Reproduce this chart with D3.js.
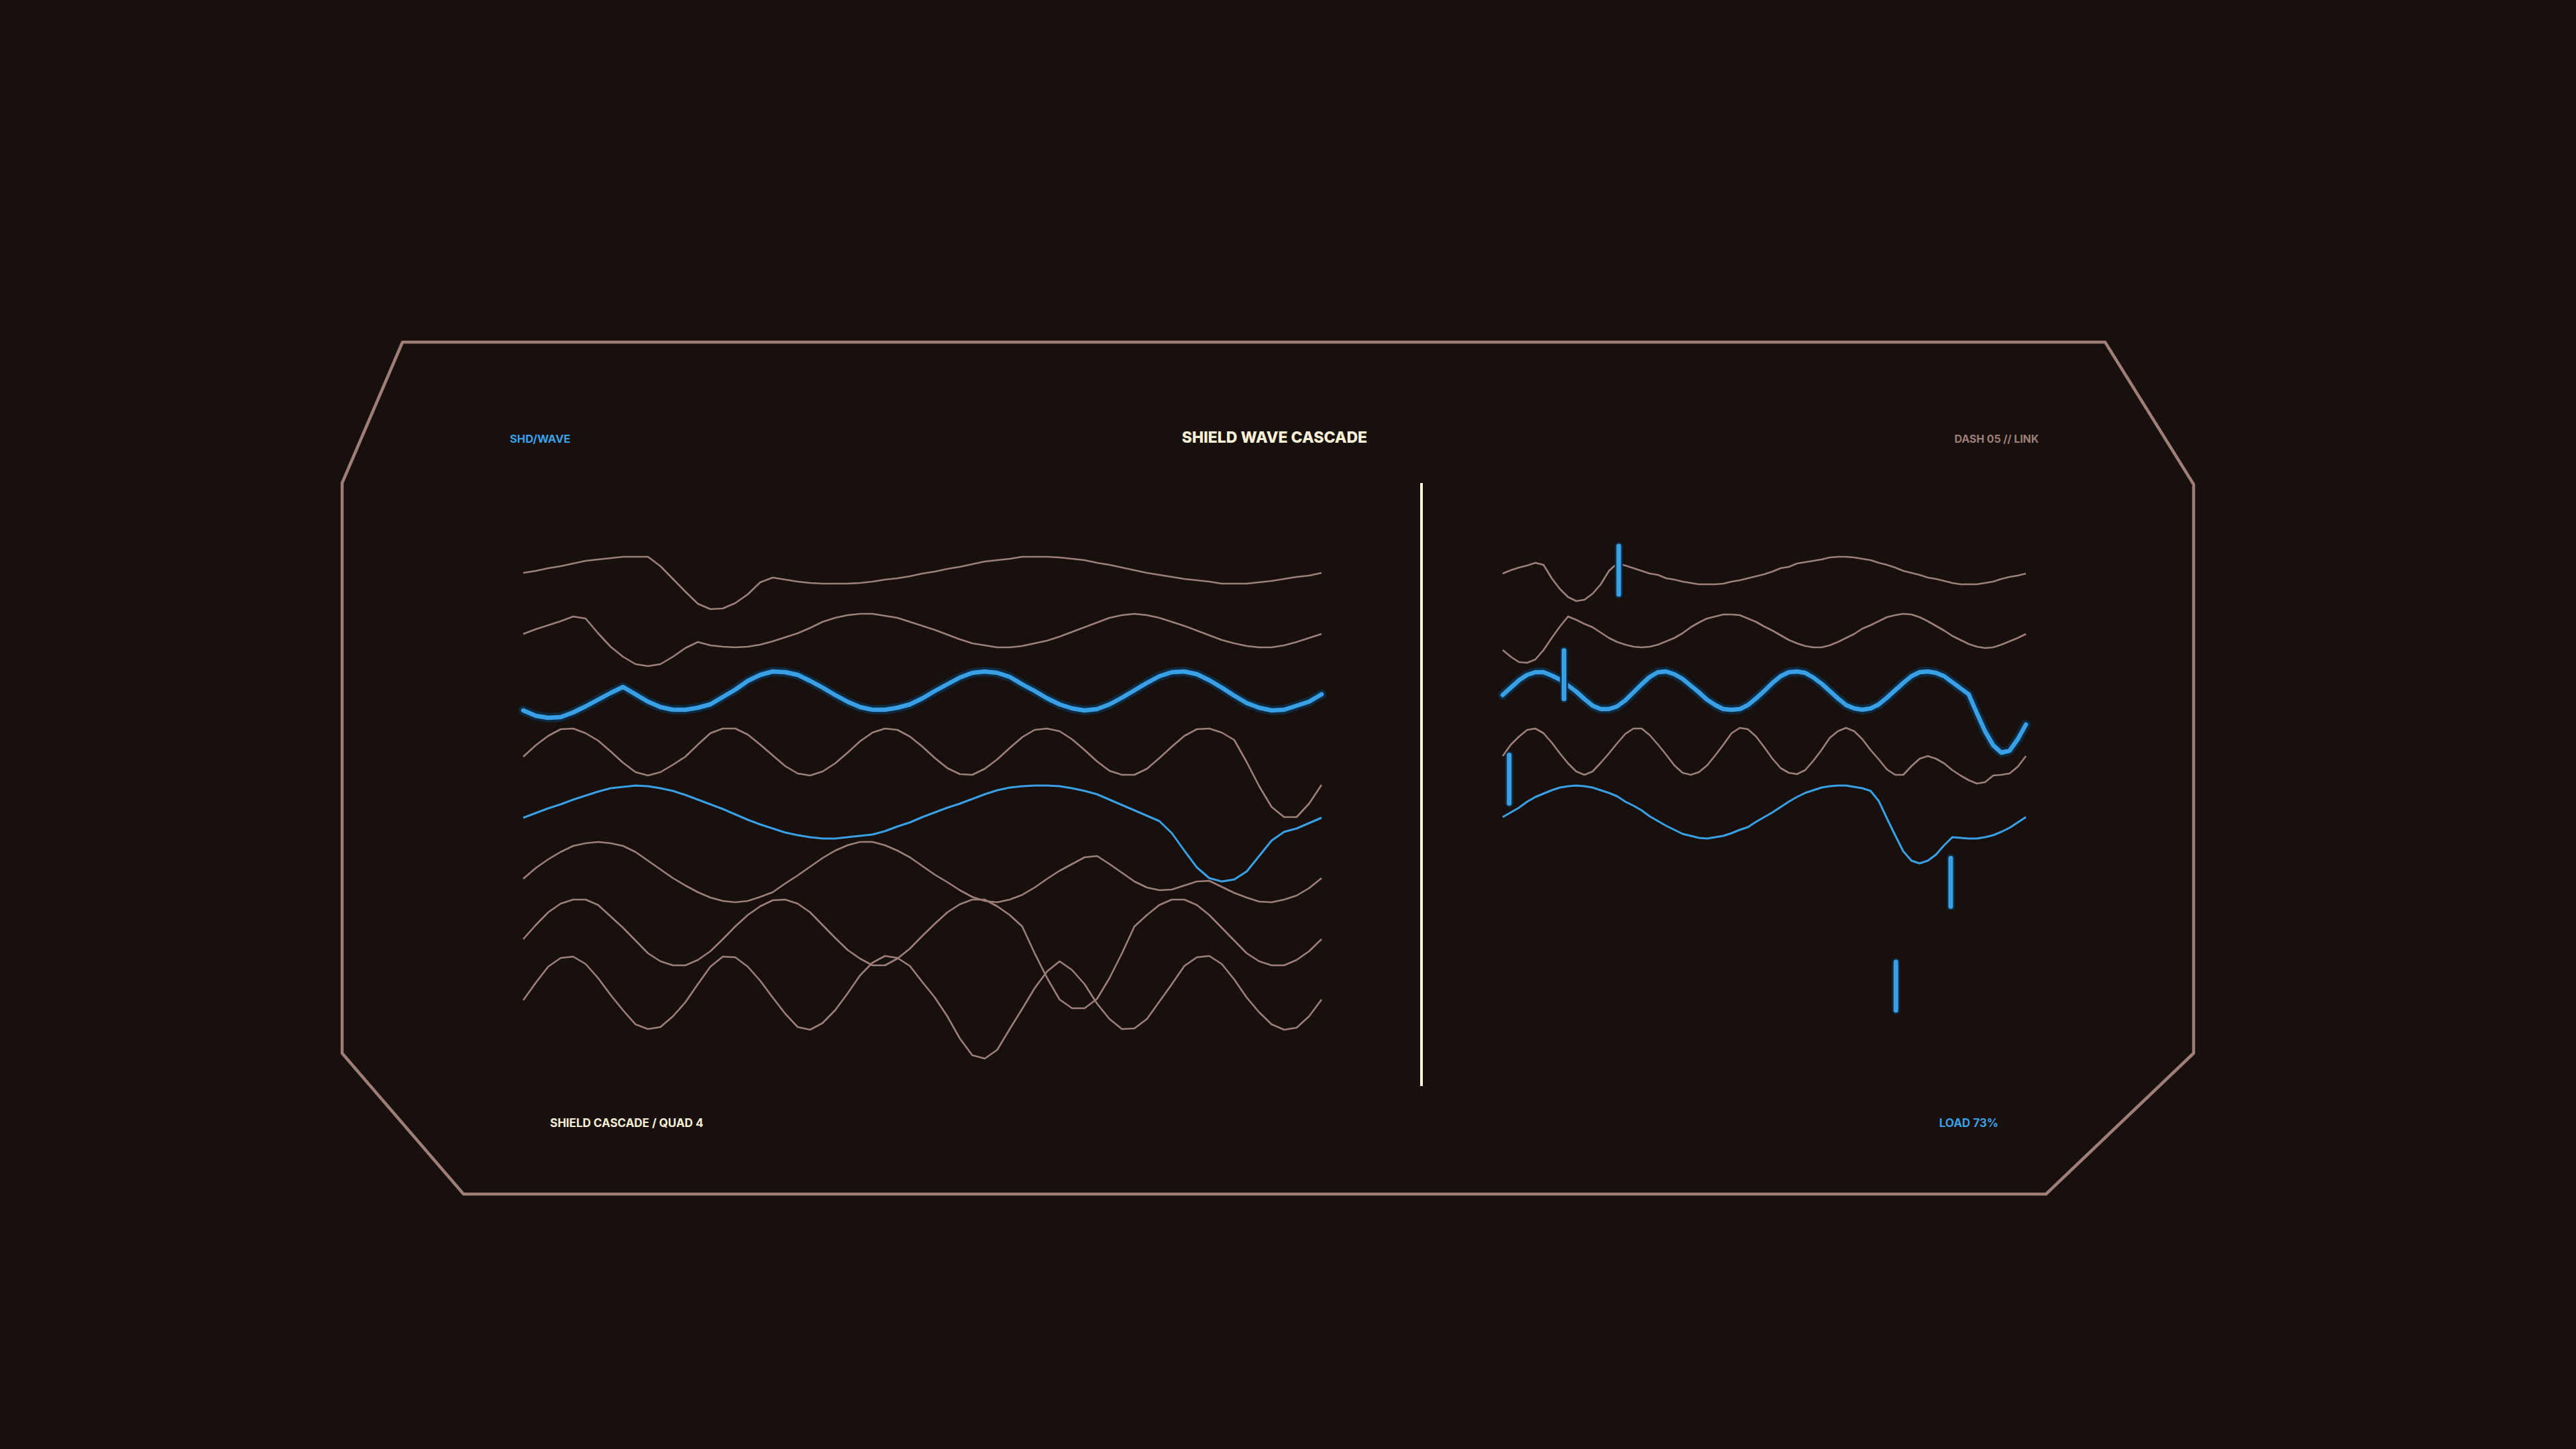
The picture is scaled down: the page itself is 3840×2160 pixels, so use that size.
<!DOCTYPE html>
<html>
<head>
<meta charset="utf-8">
<script src="https://cdn.jsdelivr.net/npm/d3@7/dist/d3.min.js"></script>
<style>
  html, body { margin: 0; padding: 0; background: #18100d; overflow: hidden; }
  svg { display: block; }
</style>
</head>
<body>
<svg id="chart" width="3840" height="2160"></svg>
<script>
// ---------- DATA (signal deviation per sample) ----------
const waveL1 = [-4,-1,3,6,10,14,16,18,20,20,20,6,-13,-32,-50,-58,-57,-49,-36,-18,-11,-14,-17,-19,-20,-20,-20,-19,-17,-14,-12,-9,-5,-2,2,5,9,13,15,17,20,20,20,19,17,15,11,8,4,0,-4,-7,-10,-13,-15,-17,-20,-20,-20,-18,-16,-13,-10,-8,-4];
const waveL2 = [-5,2,8,14,21,18,-4,-24,-39,-50,-53,-50,-39,-26,-17,-22,-24,-25,-24,-21,-16,-10,-4,4,13,19,23,25,25,22,19,13,7,1,-6,-13,-19,-22,-25,-25,-23,-19,-15,-9,-2,5,12,19,23,25,23,19,13,7,0,-7,-14,-19,-23,-25,-25,-22,-17,-11,-5];
const waveL3 = [-29,-37,-40,-39,-32,-23,-13,-3,6,-5,-16,-24,-28,-28,-25,-20,-9,2,15,24,29,28,24,15,5,-6,-16,-24,-28,-28,-25,-20,-11,0,10,20,27,29,27,21,10,0,-11,-20,-26,-29,-27,-20,-10,1,12,22,28,29,25,16,5,-7,-18,-25,-29,-28,-22,-16,-5];
const waveL4 = [-8,9,23,33,34,27,16,0,-17,-31,-36,-31,-20,-8,10,27,34,34,25,10,-6,-22,-33,-36,-30,-18,-2,15,28,34,32,22,7,-10,-25,-34,-35,-26,-12,5,21,32,34,30,18,2,-15,-29,-35,-35,-26,-10,7,23,33,34,28,17,-16,-52,-83,-98,-98,-78,-50];
const waveL5 = [-9,-2,5,11,18,24,30,35,37,39,38,35,31,25,18,11,4,-4,-12,-19,-25,-31,-35,-38,-40,-40,-38,-36,-34,-29,-22,-16,-8,-1,6,12,19,26,32,36,38,39,39,38,35,31,26,18,10,2,-6,-14,-32,-58,-83,-99,-104,-101,-89,-66,-43,-30,-25,-17,-9];
const waveL6 = [-10,6,19,30,39,43,45,43,39,30,17,4,-9,-20,-30,-38,-43,-45,-43,-37,-30,-17,-5,8,21,32,40,45,45,40,32,22,9,-4,-15,-27,-37,-43,-45,-41,-34,-23,-10,2,12,22,24,12,-1,-14,-23,-27,-26,-20,-14,-13,-22,-31,-38,-44,-45,-41,-35,-24,-9];
const waveL7 = [-10,11,30,43,49,49,41,24,7,-12,-31,-43,-49,-49,-41,-28,-10,9,26,39,48,49,43,30,11,-8,-26,-39,-49,-49,-39,-24,-5,13,30,42,49,49,39,26,9,-31,-68,-100,-113,-113,-99,-68,-31,9,26,41,49,49,41,26,7,-12,-31,-43,-49,-49,-41,-28,-10];
const waveL8 = [-11,15,39,52,54,43,22,-3,-26,-47,-54,-51,-35,-14,13,39,54,53,39,18,-7,-31,-51,-55,-45,-26,-1,26,45,55,52,40,16,-7,-35,-68,-93,-98,-85,-54,-24,7,32,47,34,13,-16,-39,-54,-53,-39,-13,13,40,53,55,43,20,-7,-29,-47,-55,-52,-35,-10];

const waveR1 = [-5,0,4,7,11,8,-12,-28,-40,-46,-44,-35,-21,-1,10,7,3,-1,-5,-7,-12,-14,-17,-19,-21,-21,-21,-20,-17,-15,-12,-9,-6,-2,3,5,10,12,14,16,19,20,20,19,17,15,11,8,4,-1,-4,-7,-11,-13,-16,-19,-21,-21,-21,-19,-17,-13,-10,-8,-5];
const waveR2 = [-29,-39,-47,-48,-43,-29,-11,6,21,16,10,5,-3,-11,-17,-21,-24,-25,-24,-21,-16,-11,-4,5,12,18,21,24,24,23,18,13,6,0,-7,-14,-19,-23,-25,-25,-22,-17,-11,-5,3,8,14,20,23,25,24,20,14,7,0,-8,-14,-20,-24,-26,-25,-21,-16,-11,-5];
const waveR3 = [-6,5,16,24,28,28,23,17,8,-1,-12,-22,-27,-27,-23,-14,-2,10,21,28,29,25,18,8,-2,-13,-21,-27,-28,-27,-21,-11,0,12,22,28,29,27,20,11,0,-11,-21,-26,-28,-26,-20,-10,1,12,22,28,29,27,22,13,4,-5,-33,-60,-81,-92,-89,-72,-50];
const waveR4 = [-7,10,22,32,34,27,13,-3,-18,-30,-35,-30,-17,-3,12,26,34,34,24,10,-5,-21,-32,-35,-31,-21,-6,10,27,35,33,22,6,-11,-25,-32,-34,-28,-14,2,20,30,35,30,18,2,-12,-27,-35,-35,-22,-11,-7,-11,-18,-28,-36,-43,-48,-46,-36,-35,-33,-23,-7];
const waveR5 = [-8,-1,6,15,22,27,32,36,38,39,38,36,32,28,23,15,9,2,-7,-14,-21,-27,-33,-36,-39,-40,-38,-36,-32,-27,-23,-15,-8,-1,7,15,22,28,32,36,38,39,39,37,35,31,16,-10,-35,-59,-73,-77,-73,-64,-50,-38,-39,-40,-40,-38,-35,-30,-24,-16,-8];

// lane of each series and its role
const leftLanes  = [0, 1, 2, 3, 4, 5, 6, 7];
const leftRoles  = ["muted", "muted", "bold", "muted", "accent", "muted", "muted", "muted"];
const rightLanes = [0, 1, 2, 3, 4];
const rightRoles = ["muted", "muted", "bold", "muted", "accent"];

// event markers on the right panel: sample position, lane position, half span (signal units)
const markerSample = [14.2, 7.5, 0.8, 54.8, 48.1];
const markerLane   = [0, 1.73, 3.46, 5.17, 6.89];
const markerSpan   = [36, 36, 36, 36, 36];

// labels
const labelTopLeft   = "SHD/WAVE";
const labelTitle     = "SHIELD WAVE CASCADE";
const labelTopRight  = "DASH 05 // LINK";
const labelBotLeft   = "SHIELD CASCADE / QUAD 4";
const labelBotRight  = "LOAD 73%";

// ---------- STYLE ----------
const C = {
  bg: "#18100d",
  frame: "#9f7e79",
  muted: "#9d7f7a",
  blue: "#3aa0e6",
  glow: "#0e2a41",
  cream: "#fdf1d8"
};

const svg = d3.select("#chart");
svg.append("rect").attr("width", 3840).attr("height", 2160).attr("fill", C.bg);

// ---------- FRAME ----------
const frame = [[600,510],[3138,510],[3270,722],[3270,1570],[3050,1780],[691,1780],[510,1570],[510,720]];
svg.append("path")
  .attr("d", d3.line()(frame) + "Z")
  .attr("fill", "none")
  .attr("stroke", C.frame)
  .attr("stroke-width", 4.5)
  .attr("stroke-linejoin", "round");

// ---------- SCALES ----------
const laneY = d3.scaleLinear().domain([0, 7]).range([850, 1480]);
const sig = d3.scaleLinear().domain([-100, 100]).range([100, -100]);
const xLeft = d3.scaleLinear().domain([0, 64]).range([780, 1970]);
const xRight = d3.scaleLinear().domain([0, 64]).range([2240, 3020]);

function drawPanel(g, series, lanes, roles, x) {
  series.forEach((vals, k) => {
    const lane = lanes[k];
    const role = roles[k];
    const line = d3.line()
      .x((d, i) => x(i))
      .y(d => laneY(lane) + sig(d));
    if (role === "bold") {
      g.append("path").attr("d", line(vals))
        .attr("fill", "none").attr("stroke", C.glow)
        .attr("stroke-width", 14).attr("stroke-linejoin", "round").attr("stroke-linecap", "round")
        .attr("opacity", 0.95);
      g.append("path").attr("d", line(vals))
        .attr("fill", "none").attr("stroke", C.blue)
        .attr("stroke-width", 6.5).attr("stroke-linejoin", "round").attr("stroke-linecap", "round");
    } else {
      g.append("path").attr("d", line(vals))
        .attr("fill", "none")
        .attr("stroke", role === "accent" ? C.blue : C.muted)
        .attr("stroke-width", role === "accent" ? 3 : 2.6)
        .attr("stroke-linejoin", "round");
    }
  });
}

const gL = svg.append("g");
drawPanel(gL, [waveL1, waveL2, waveL3, waveL4, waveL5, waveL6, waveL7, waveL8], leftLanes, leftRoles, xLeft);

const gR = svg.append("g");
drawPanel(gR, [waveR1, waveR2, waveR3, waveR4, waveR5], rightLanes, rightRoles, xRight);

// markers
const mk = svg.append("g");
markerSample.forEach((s, i) => {
  const cx = xRight(s);
  const y0 = laneY(markerLane[i]) + sig(markerSpan[i]);
  const y1 = laneY(markerLane[i]) + sig(-markerSpan[i]);
  mk.append("line").attr("x1", cx).attr("x2", cx).attr("y1", y0).attr("y2", y1)
    .attr("stroke", C.glow).attr("stroke-width", 12).attr("stroke-linecap", "round");
  mk.append("line").attr("x1", cx).attr("x2", cx).attr("y1", y0).attr("y2", y1)
    .attr("stroke", C.blue).attr("stroke-width", 7).attr("stroke-linecap", "round");
});

// divider
svg.append("line")
  .attr("x1", 2119).attr("x2", 2119).attr("y1", 720).attr("y2", 1619)
  .attr("stroke", C.cream).attr("stroke-width", 4);

// ---------- TEXT ----------
const font = "Inter, 'Noto Sans', sans-serif";
function txt(s, x, y, anchor, size, weight, color) {
  svg.append("text").text(s)
    .attr("x", x).attr("y", y)
    .attr("text-anchor", anchor)
    .attr("font-family", font)
    .attr("font-size", size)
    .attr("font-weight", weight)
    .attr("fill", color);
}
txt(labelTopLeft, 760, 660, "start", 16.5, 700, C.blue);
txt(labelTitle, 1900, 660, "middle", 23, 800, C.cream);
txt(labelTopRight, 3039, 660, "end", 15.8, 700, C.muted);
txt(labelBotLeft, 820, 1680, "start", 17, 700, C.cream);
txt(labelBotRight, 2979, 1680, "end", 17, 700, C.blue);
</script>
</body>
</html>
